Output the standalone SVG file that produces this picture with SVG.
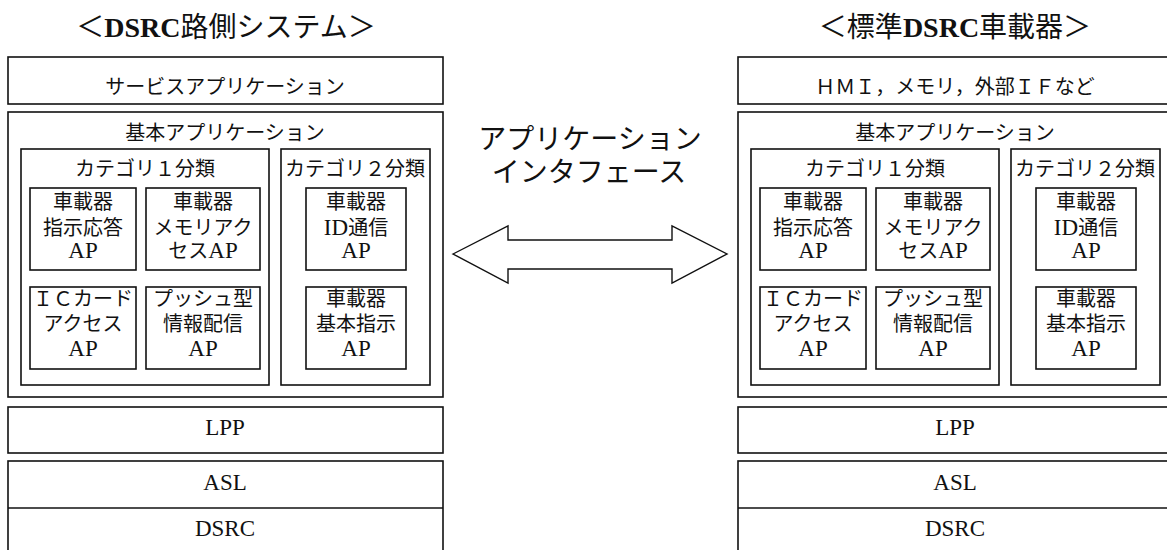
<svg xmlns="http://www.w3.org/2000/svg" width="1167" height="550" viewBox="0 0 1167 550">
<style>
  text { font-family: "Liberation Serif", "Noto Sans CJK JP", serif; fill: #111; text-anchor: middle; font-size: 20px; }
  .lat { font-size: 23px; }
  .ttl { font-size: 28px; }
  .b { font-weight: bold; }
  .mid { font-size: 28px; }
  rect.box { fill: #fff; stroke: #111; stroke-width: 1.6; }
  line.div { stroke: #111; stroke-width: 1.6; }
  .arrow { fill: #fff; stroke: #111; stroke-width: 1.4; stroke-linejoin: miter; }
</style>
<rect width="1167" height="550" fill="#fff"/>

<defs>
  <g id="column">
    <g id="svc-box"><rect class="box" x="8" y="57" width="435" height="47"/></g>
    <g id="basic-box"><rect class="box" x="8" y="112" width="435" height="285"/>
      <text x="225" y="140">基本アプリケーション</text></g>
    <g id="cat1"><rect class="box" x="21" y="149" width="248" height="236"/>
      <text x="145" y="176">カテゴリ１分類</text></g>
    <g id="cat2"><rect class="box" x="281" y="149" width="149" height="236"/>
      <text x="355" y="176">カテゴリ２分類</text></g>
    <g id="ap1"><rect class="box" x="30" y="188" width="106" height="82"/>
      <text x="83" y="209">車載器</text><text x="83" y="235">指示応答</text><text class="lat" x="83" y="258">AP</text></g>
    <g id="ap2"><rect class="box" x="146" y="188" width="114" height="82"/>
      <text x="203" y="209">車載器</text><text x="203" y="235">メモリアク</text><text x="203" y="258">セス<tspan class="lat">AP</tspan></text></g>
    <g id="ap3"><rect class="box" x="30" y="287" width="106" height="82"/>
      <text x="83" y="306">ＩＣカード</text><text x="83" y="331">アクセス</text><text class="lat" x="83" y="356">AP</text></g>
    <g id="ap4"><rect class="box" x="146" y="287" width="114" height="82"/>
      <text x="203" y="306">プッシュ型</text><text x="203" y="331">情報配信</text><text class="lat" x="203" y="356">AP</text></g>
    <g id="ap5"><rect class="box" x="306" y="188" width="100" height="82"/>
      <text x="356" y="209">車載器</text><text x="356" y="235"><tspan class="lat">ID</tspan>通信</text><text class="lat" x="356" y="258">AP</text></g>
    <g id="ap6"><rect class="box" x="306" y="287" width="100" height="82"/>
      <text x="356" y="306">車載器</text><text x="356" y="331">基本指示</text><text class="lat" x="356" y="356">AP</text></g>
    <g id="lpp"><rect class="box" x="8" y="407" width="435" height="46"/>
      <text class="lat" x="225" y="435">LPP</text></g>
    <g id="asl-dsrc"><rect class="box" x="8" y="461" width="435" height="100"/>
      <line class="div" x1="8" y1="508" x2="443" y2="508"/>
      <text class="lat" x="225" y="490">ASL</text>
      <text class="lat" x="225" y="536">DSRC</text></g>
  </g>
</defs>

<g id="roadside">
  <text class="ttl" x="226" y="37">＜<tspan class="b">DSRC</tspan>路側システム＞</text>
  <use href="#column"/>
  <text x="225" y="94">サービスアプリケーション</text>
</g>

<g id="onboard">
  <text class="ttl" x="955" y="37">＜標準<tspan class="b">DSRC</tspan>車載器＞</text>
  <use href="#column" transform="translate(730,0)"/>
  <text x="955" y="94">ＨＭＩ，メモリ，外部ＩＦなど</text>
</g>

<g id="interface-label">
  <text class="mid" x="590" y="149">アプリケーション</text>
  <text class="mid" x="589" y="182">インタフェース</text>
</g>

<g id="connectors">
  <polygon class="arrow" points="453,254 508,226 508,240 672,240 672,226 727,254 672,283 672,269 508,269 508,283"/>
</g>
</svg>
